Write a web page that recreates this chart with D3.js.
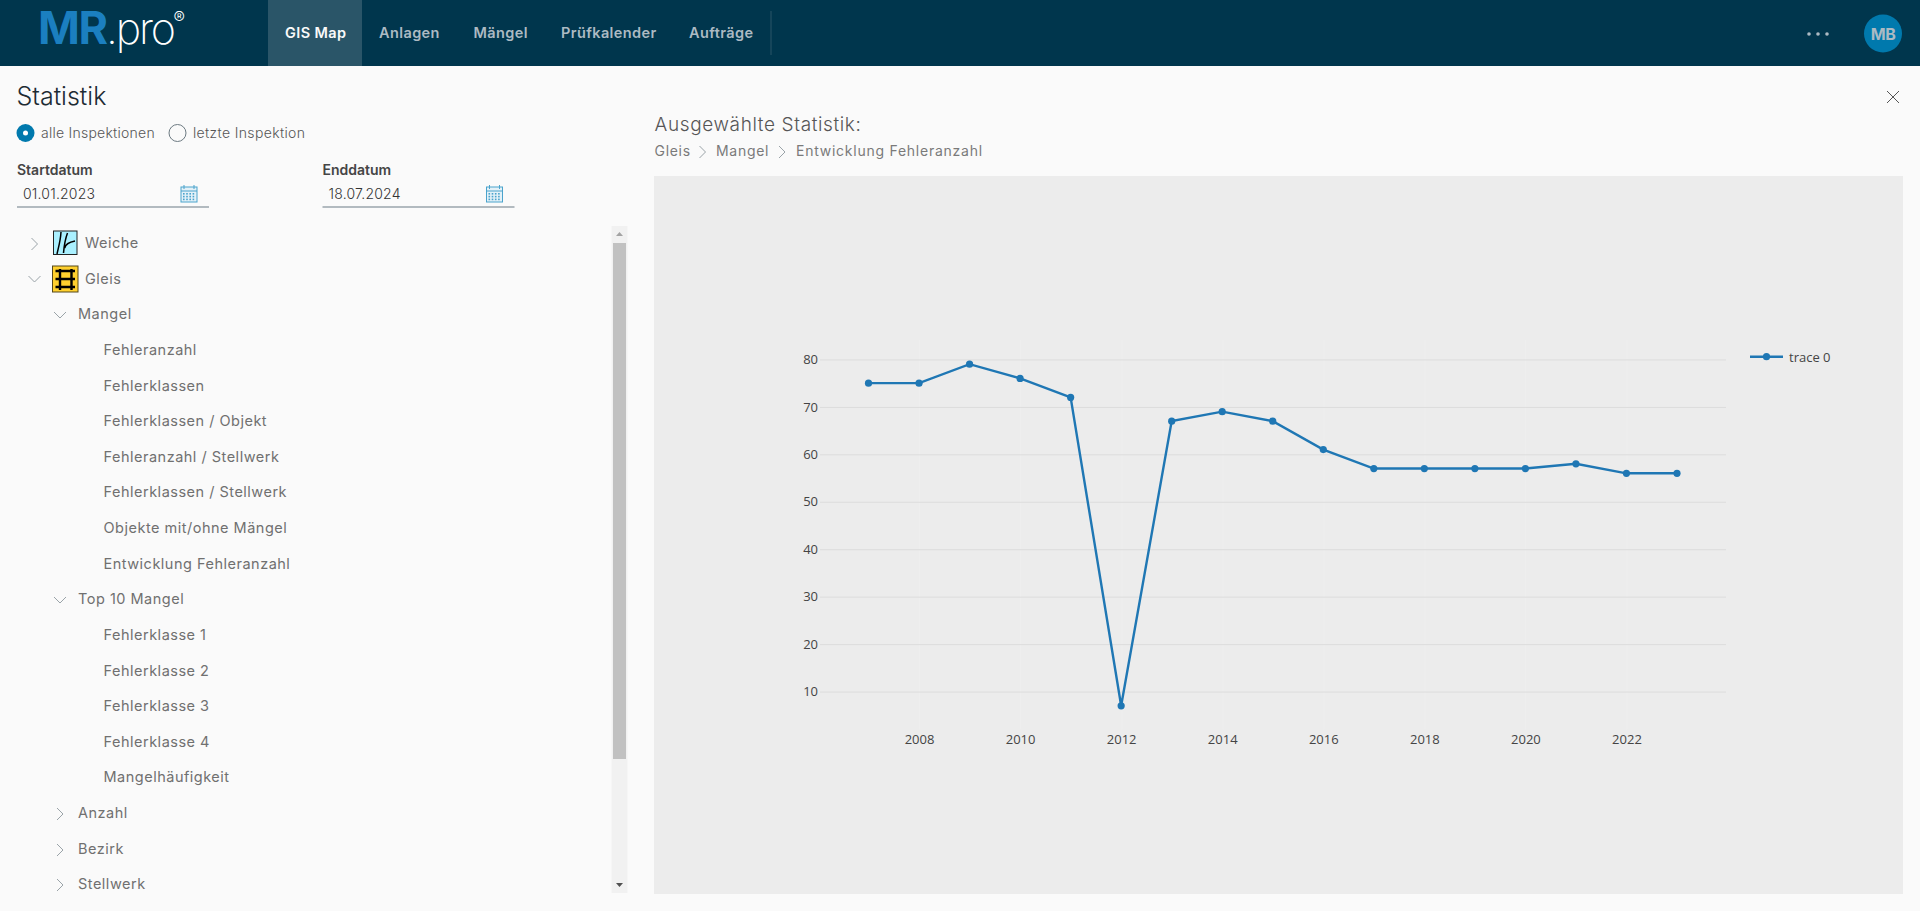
<!DOCTYPE html>
<html lang="de">
<head>
<meta charset="utf-8">
<title>Statistik</title>
<script src="https://cdnjs.cloudflare.com/ajax/libs/d3/7.8.5/d3.min.js"></script>
<style>
  html, body { margin: 0; padding: 0; background: #fafafa; overflow: hidden; }
  svg { display: block; }
  text { font-family: Inter, "Noto Sans", sans-serif; }
  .chart text { font-family: "Open Sans", sans-serif; font-size: 13px; fill: #444; }
  .tree text { font-size: 14.5px; fill: #707070; letter-spacing: .5px; }
</style>
</head>
<body>
<svg id="page" width="1920" height="911"></svg>
<script>
'use strict';

// chart values
var years = [2007, 2008, 2009, 2010, 2011, 2012, 2013, 2014, 2015, 2016, 2017, 2018, 2019, 2020, 2021, 2022, 2023];
var trace0 = [75, 75, 79, 76, 72, 7, 67, 69, 67, 61, 57, 57, 57, 57, 58, 56, 56];
var xTicks = [2008, 2010, 2012, 2014, 2016, 2018, 2020, 2022];
var yTicks = [10, 20, 30, 40, 50, 60, 70, 80];
var traceName = 'trace 0';

// page texts
var navItems = ['GIS Map', 'Anlagen', 'Mängel', 'Prüfkalender', 'Aufträge'];
var navX = [285, 379, 473.5, 561, 689];
var treeLeaves1 = ['Fehleranzahl', 'Fehlerklassen', 'Fehlerklassen / Objekt', 'Fehleranzahl / Stellwerk',
  'Fehlerklassen / Stellwerk', 'Objekte mit/ohne Mängel', 'Entwicklung Fehleranzahl'];
var treeLeaves2 = ['Fehlerklasse 1', 'Fehlerklasse 2', 'Fehlerklasse 3', 'Fehlerklasse 4', 'Mangelhäufigkeit'];

var svg = d3.select('#page');

function label(parent, x, y, str, size, fill, weight) {
  return parent.append('text').attr('x', x).attr('y', y).attr('dy', '.35em')
    .attr('font-size', size).attr('fill', fill).attr('font-weight', weight || 400).text(str);
}

function chevron(parent, cx, cy, open) {
  var pts = open ? [[cx - 6, cy - 3], [cx, cy + 3], [cx + 6, cy - 3]] : [[cx - 3, cy - 6], [cx + 3, cy], [cx - 3, cy + 6]];
  parent.append('path').attr('d', d3.line()(pts)).attr('fill', 'none').attr('stroke', '#9aa3a8').attr('stroke-width', 1);
}

// ---- header
var head = svg.append('g');
head.append('rect').attr('width', 1920).attr('height', 66).attr('fill', '#00364d');
head.append('rect').attr('x', 268).attr('width', 94).attr('height', 66).attr('fill', '#2a5568');
head.append('text').attr('x', 38).attr('y', 44).attr('font-size', 45).attr('font-weight', 700)
  .attr('fill', '#1b7fc0').attr('letter-spacing', -1.5).text('MR');
head.append('text').attr('x', 106).attr('y', 44).attr('font-size', 43).attr('font-weight', 200)
  .attr('fill', '#fff').attr('letter-spacing', -2.2).text('.pro');
head.append('text').attr('x', 173.5).attr('y', 24).attr('font-size', 17).attr('font-weight', 300).attr('fill', '#fff').text('®');
navItems.forEach(function(d, i) {
  label(head, navX[i], 33, d, 14.5, i === 0 ? '#fafafa' : '#acbac3', 600).attr('letter-spacing', .4);
});
head.append('line').attr('x1', 771).attr('x2', 771).attr('y1', 11).attr('y2', 55).attr('stroke', '#2a5568');
head.selectAll('circle.dot').data([1809, 1818, 1827]).enter().append('circle')
  .attr('cx', function(d) { return d; }).attr('cy', 34).attr('r', 1.8).attr('fill', '#acbac3');
head.append('circle').attr('cx', 1883).attr('cy', 33.5).attr('r', 19).attr('fill', '#0079ad');
label(head, 1883, 34, 'MB', 16, '#acbac3', 700).attr('text-anchor', 'middle').attr('letter-spacing', -.5);

// ---- left panel
var left = svg.append('g');
label(left, 16.5, 96, 'Statistik', 25, '#1d2b33', 300);
left.append('circle').attr('cx', 25.5).attr('cy', 133).attr('r', 9).attr('fill', '#0079ad');
left.append('circle').attr('cx', 25.5).attr('cy', 133).attr('r', 2.5).attr('fill', '#fff');
label(left, 41, 133, 'alle Inspektionen', 14, '#565656', 300).attr('letter-spacing', .25);
left.append('circle').attr('cx', 177.5).attr('cy', 133).attr('r', 8.5).attr('fill', 'none').attr('stroke', '#6d7a82');
label(left, 193, 133, 'letzte Inspektion', 14, '#565656', 300).attr('letter-spacing', .35);

[[17, 'Startdatum', '01.01.2023'], [322.5, 'Enddatum', '18.07.2024']].forEach(function(f) {
  var g = left.append('g').attr('transform', 'translate(' + f[0] + ',0)');
  label(g, 0, 170, f[1], 14, '#454545', 600);
  label(g, 6, 194, f[2], 14, '#333', 300).attr('letter-spacing', .2);
  g.append('line').attr('x1', 0).attr('x2', 192).attr('y1', 207).attr('y2', 207).attr('stroke', '#6a7a85');
  // calendar icon
  var c = g.append('g').attr('transform', 'translate(172,194)').attr('fill', 'none').attr('stroke', '#4aa3cc');
  c.append('rect').attr('x', -8).attr('y', -7).attr('width', 16).attr('height', 15).attr('fill', '#e3f1f8');
  c.append('path').attr('d', 'M-5,-9V-5M5,-9V-5M-8,-3H8');
  c.selectAll('rect.cell').data(d3.cross(d3.range(4), d3.range(3))).enter().append('rect')
    .attr('x', function(d) { return -6 + d[0] * 3.2; }).attr('y', function(d) { return -1 + d[1] * 2.8; })
    .attr('width', 1.6).attr('height', 1.6).attr('fill', '#4aa3cc').attr('stroke', 'none');
});

// ---- tree
var tree = left.append('g').attr('class', 'tree');
function treeRow(x, y, str) {
  tree.append('text').attr('x', x).attr('y', y).attr('dy', '.35em').text(str);
}
treeRow(85, 243, 'Weiche');
chevron(tree, 34.5, 244, false);
treeRow(85, 279, 'Gleis');
chevron(tree, 34.5, 279, true);
treeRow(78, 314, 'Mangel');
chevron(tree, 60, 315, true);
treeLeaves1.forEach(function(d, i) { treeRow(103.5, 350 + i * 35.6, d); });
treeRow(78, 599, 'Top 10 Mangel');
chevron(tree, 60, 600, true);
treeLeaves2.forEach(function(d, i) { treeRow(103.5, 635 + i * 35.6, d); });
[['Anzahl', 813], ['Bezirk', 849], ['Stellwerk', 884]].forEach(function(d) {
  treeRow(78, d[1], d[0]);
  chevron(tree, 60, d[1] + 1, false);
});

// Weiche icon
var wIcon = left.append('g').attr('transform', 'translate(53.5,231)');
wIcon.append('rect').attr('width', 23.5).attr('height', 23.5).attr('fill', '#aaf0ff').attr('stroke', '#222');
wIcon.append('path').attr('d', 'M7.5,1C7,10 5,16 3.5,23M14,2C11,10 10.5,16 10,22M11.2,17C12,13 16,11 21.5,10')
  .attr('fill', 'none').attr('stroke', '#000').attr('stroke-width', 1.5);
// Gleis icon
var gIcon = left.append('g').attr('transform', 'translate(52.5,266)');
gIcon.append('rect').attr('width', 25.5).attr('height', 26).attr('fill', '#ffd02e').attr('stroke', '#55481a');
gIcon.append('path').attr('d', 'M7.5,3V24M19,3V24').attr('stroke', '#000').attr('stroke-width', 2.4);
gIcon.append('path').attr('d', 'M3,5H22.5M3,13H22.5M3,21H22.5').attr('stroke', '#000').attr('stroke-width', 2.6);

// scrollbar
var bar = left.append('g');
bar.append('rect').attr('x', 611.5).attr('y', 226).attr('width', 16).attr('height', 667).attr('fill', '#f1f1f1');
bar.append('rect').attr('x', 613).attr('y', 243).attr('width', 13).attr('height', 516).attr('fill', '#c1c1c1');
bar.append('path').attr('d', 'M619.5,232l-3.5,4h7z').attr('fill', '#a3a3a3');
bar.append('path').attr('d', 'M619.5,887l-3.5,-4h7z').attr('fill', '#505050');

// ---- right panel
var right = svg.append('g');
label(right, 654.5, 124, 'Ausgewählte Statistik:', 19, '#565656', 300).attr('letter-spacing', .62);
label(right, 654.5, 151, 'Gleis', 14, '#7a7a7a').attr('letter-spacing', .7);
chevron(right, 702.5, 152, false);
label(right, 716, 151, 'Mangel', 14, '#7a7a7a').attr('letter-spacing', .7);
chevron(right, 782, 152, false);
label(right, 796, 151, 'Entwicklung Fehleranzahl', 14, '#7a7a7a').attr('letter-spacing', .75);
right.append('path').attr('d', 'M1887,91L1899,103M1899,91L1887,103').attr('stroke', '#555').attr('fill', 'none');
right.append('rect').attr('x', 654).attr('y', 176).attr('width', 1249).attr('height', 718).attr('fill', '#ececec');

// ---- chart
var x = d3.scaleLinear().domain([2006.04, 2023.97]).range([820, 1726]);
var y = d3.scaleLinear().domain([2, 84.1]).range([729.5, 340]);

var chart = svg.append('g').attr('class', 'chart');

var xAxis = chart.append('g').attr('transform', 'translate(0,729.5)')
  .call(d3.axisBottom(x).tickValues(xTicks).tickFormat(d3.format('d')).tickSize(-389.5).tickPadding(5));
xAxis.select('.domain').remove();
xAxis.selectAll('line').attr('stroke', '#eeeeee');

var yAxis = chart.append('g').attr('transform', 'translate(820,0)')
  .call(d3.axisLeft(y).tickValues(yTicks).tickSize(-906).tickPadding(2));
yAxis.select('.domain').remove();
yAxis.selectAll('line').attr('stroke', '#dcdcdc');

var line = d3.line()
  .x(function(d) { return x(d[0]); })
  .y(function(d) { return y(d[1]); });
var pts = d3.zip(years, trace0);

chart.append('path').datum(pts).attr('d', line)
  .attr('fill', 'none').attr('stroke', '#1f77b4').attr('stroke-width', 2.4);
chart.selectAll('circle.pt').data(pts).enter().append('circle').attr('class', 'pt')
  .attr('cx', function(d) { return x(d[0]); })
  .attr('cy', function(d) { return y(d[1]); })
  .attr('r', 3.6).attr('fill', '#1f77b4');

// legend
var legend = chart.append('g').attr('transform', 'translate(1750,356.7)');
legend.append('line').attr('x1', 0).attr('x2', 33).attr('stroke', '#1f77b4').attr('stroke-width', 2.4);
legend.append('circle').attr('cx', 16.5).attr('r', 3.6).attr('fill', '#1f77b4');
legend.append('text').attr('x', 39).attr('y', 1).attr('dy', '.35em').text(traceName);
</script>
</body>
</html>
